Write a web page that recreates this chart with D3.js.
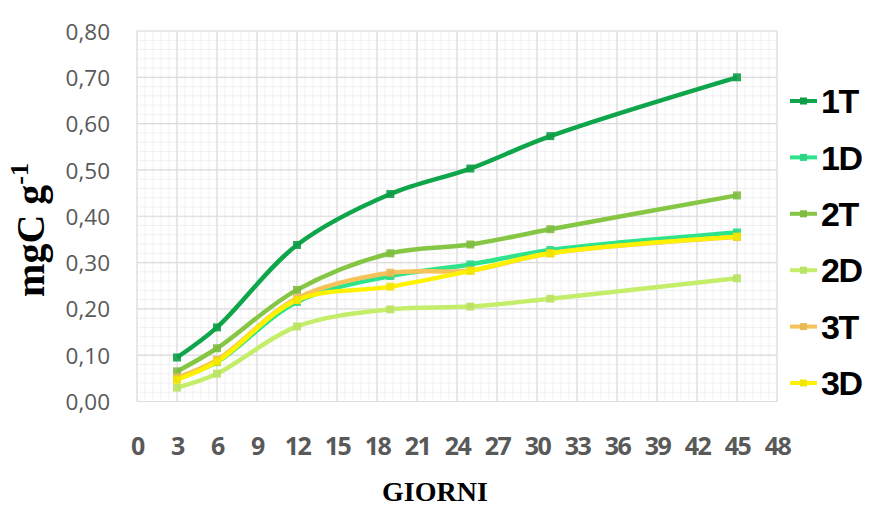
<!DOCTYPE html>
<html>
<head>
<meta charset="utf-8">
<script src="https://cdn.jsdelivr.net/npm/d3@7"></script>
<style>
html,body{margin:0;padding:0;background:#fff;}
svg{display:block;}
</style>
</head>
<body>
<svg id="chart" width="872" height="507"></svg>
<script>
const days = [3, 6, 12, 19, 25, 31, 45];
const seriesNames = ["1T", "1D", "2T", "2D", "3T", "3D"];
const s1T = [0.095, 0.160, 0.338, 0.448, 0.503, 0.573, 0.700];
const s1D = [0.050, 0.085, 0.215, 0.271, 0.296, 0.327, 0.365];
const s2T = [0.065, 0.115, 0.241, 0.320, 0.339, 0.372, 0.445];
const s2D = [0.030, 0.060, 0.162, 0.199, 0.205, 0.222, 0.266];
const s3T = [0.052, 0.090, 0.223, 0.278, 0.283, 0.320, 0.355];
const s3D = [0.047, 0.086, 0.219, 0.248, 0.282, 0.320, 0.356];
const seriesColors = ["#0FA64B", "#2DE38B", "#86C645", "#C4EE6A", "#F6C35A", "#FFF200"];
const xTicks = [0, 3, 6, 9, 12, 15, 18, 21, 24, 27, 30, 33, 36, 39, 42, 45, 48];
const yTicks = [0, 0.1, 0.2, 0.3, 0.4, 0.5, 0.6, 0.7, 0.8];

const seriesValues = [s1T, s1D, s2T, s2D, s3T, s3D];

const svg = d3.select("#chart");
const pL = 137, pR = 777, pT = 31, pB = 401.5;
const x = d3.scaleLinear().domain([0, 48]).range([pL, pR]);
const y = d3.scaleLinear().domain([0, 0.8]).range([pB, pT]);

// minor grid
const g = svg.append("g");
const xMinor = d3.range(0, 48.001, 0.6);
const yMinor = d3.range(0, 0.8001, 0.02);
g.selectAll(".xm").data(xMinor).enter().append("line")
  .attr("x1", d => x(d)).attr("x2", d => x(d)).attr("y1", pT).attr("y2", pB)
  .attr("stroke", "#f0f0f0").attr("stroke-width", 1);
g.selectAll(".ym").data(yMinor).enter().append("line")
  .attr("x1", pL).attr("x2", pR).attr("y1", d => y(d)).attr("y2", d => y(d))
  .attr("stroke", "#f0f0f0").attr("stroke-width", 1);
// major grid
g.selectAll(".xg").data(xTicks).enter().append("line")
  .attr("x1", d => x(d)).attr("x2", d => x(d)).attr("y1", pT).attr("y2", pB)
  .attr("stroke", "#dcdcdc").attr("stroke-width", 1.2);
g.selectAll(".yg").data(yTicks).enter().append("line")
  .attr("x1", pL).attr("x2", pR).attr("y1", d => y(d)).attr("y2", d => y(d))
  .attr("stroke", "#dcdcdc").attr("stroke-width", 1.2);

// axes via d3
const xAxis = d3.axisBottom(x).tickValues(xTicks).tickSize(0).tickPadding(0)
  .tickFormat(d3.format("d"));
const xa = svg.append("g").attr("transform", `translate(0,${pB + 44})`).call(xAxis);
xa.select(".domain").remove();
xa.selectAll("text").attr("font-family", "'Open Sans', sans-serif").attr("font-size", 25)
  .attr("font-weight", "bold").attr("fill", "#595959").attr("dy", "0.36em")
  .attr("letter-spacing", "-1.5");

const yAxis = d3.axisLeft(y).tickValues(yTicks).tickSize(0).tickPadding(0)
  .tickFormat(d => d3.format(".2f")(d).replace(".", ","));
const ya = svg.append("g").attr("transform", `translate(${pL - 27},0)`).call(yAxis);
ya.select(".domain").remove();
ya.selectAll("text").attr("font-family", "'Open Sans', sans-serif").attr("font-size", 22.5)
  .attr("fill", "#595959").attr("dy", "0.36em");

// lines
const line = d3.line().x(d => x(d[0])).y(d => y(d[1])).curve(d3.curveCatmullRom.alpha(0.5));
seriesValues.forEach((vals, i) => {
  const pts = days.map((d, j) => [d, vals[j]]);
  svg.append("path").datum(pts).attr("d", line).attr("fill", "none")
    .attr("stroke", seriesColors[i]).attr("stroke-width", 4.5).attr("stroke-linejoin", "round");
  svg.selectAll(null).data(pts).enter().append("rect")
    .attr("x", d => x(d[0]) - 4).attr("y", d => y(d[1]) - 4)
    .attr("width", 8).attr("height", 8)
    .attr("fill", d3.color(seriesColors[i]).darker(0.15)).attr("opacity", 0.9);
});

// legend
const lg = svg.append("g");
seriesNames.forEach((name, i) => {
  const cy = 101 + i * 56.4;
  lg.append("line").attr("x1", 790).attr("x2", 817).attr("y1", cy).attr("y2", cy)
    .attr("stroke", seriesColors[i]).attr("stroke-width", 4);
  lg.append("rect").attr("x", 800).attr("y", cy - 3.5).attr("width", 7).attr("height", 7)
    .attr("fill", d3.color(seriesColors[i]).darker(0.15));
  lg.append("text").attr("x", 821).attr("y", cy).attr("dy", "0.36em")
    .attr("font-family", "'Liberation Sans', Arial, sans-serif").attr("font-weight", "bold")
    .attr("font-size", 34).attr("letter-spacing", "-1.5").attr("fill", "#000").text(name);
});

// axis titles
const yt = svg.append("text").attr("transform", "translate(44,230) rotate(-90)")
  .attr("text-anchor", "middle").attr("font-family", "'Liberation Serif', 'Times New Roman', serif")
  .attr("font-weight", "bold").attr("font-size", 40).attr("fill", "#000");
yt.append("tspan").text("mgC g");
yt.append("tspan").attr("dy", -16).attr("font-size", 26).text("-1");

svg.append("text").attr("x", 435).attr("y", 501).attr("text-anchor", "middle")
  .attr("font-family", "'Liberation Serif', 'Times New Roman', serif").attr("font-weight", "bold")
  .attr("font-size", 28).attr("fill", "#000").text("GIORNI");
</script>
</body>
</html>
